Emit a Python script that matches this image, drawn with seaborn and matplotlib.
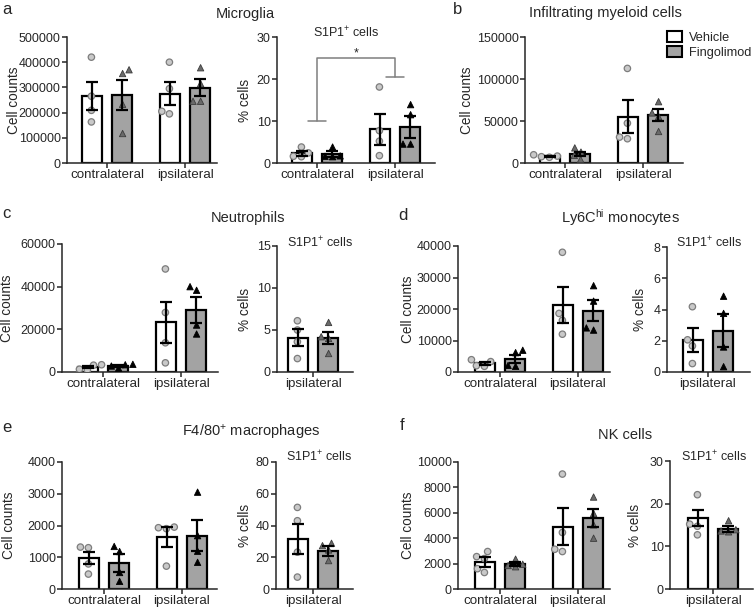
import numpy as np
import pandas as pd
import matplotlib
matplotlib.use("Agg")
import matplotlib.pyplot as plt
import seaborn as sns
from matplotlib.patches import Patch
from matplotlib.ticker import FuncFormatter

sns.set_style("ticks")
plt.rcParams["font.family"] = ["Liberation Sans", "DejaVu Sans"]
plt.rcParams["mathtext.fontset"] = "custom"
plt.rcParams["mathtext.rm"] = "Liberation Sans"
plt.rcParams["mathtext.it"] = "Liberation Sans:italic"
plt.rcParams["mathtext.bf"] = "Liberation Sans:bold"

# ---------------- data ----------------
groups2 = ["contralateral", "ipsilateral"]
groups1 = ["ipsilateral"]
treatments = ["Vehicle", "Fingolimod"]

# a: Microglia
a_cnt_veh_mean = [265000, 275000]
a_cnt_veh_sem = [56000, 46000]
a_cnt_fin_mean = [271000, 299000]
a_cnt_fin_sem = [60000, 33000]
a_cnt_veh_pts = [[420000, 265000, 209000, 163000], [400000, 295000, 205000, 195000]]
a_cnt_fin_pts = [[355000, 370000, 233000, 117000], [378000, 315000, 245000, 245000]]

a_pct_veh_mean = [2.3, 8.0]
a_pct_veh_sem = [0.65, 3.6]
a_pct_fin_mean = [2.15, 8.5]
a_pct_fin_sem = [0.65, 2.6]
a_pct_veh_pts = [[3.8, 2.4, 1.6, 1.5], [18.1, 7.7, 5.2, 1.75]]
a_pct_fin_pts = [[3.8, 1.6, 1.5, 1.7], [13.9, 11.5, 4.5, 4.5]]

# b: Infiltrating myeloid cells
b_cnt_veh_mean = [8100, 55300]
b_cnt_veh_sem = [700, 19700]
b_cnt_fin_mean = [10700, 57300]
b_cnt_fin_sem = [2900, 7400]
b_cnt_veh_pts = [[6800, 7500, 8200, 9800], [112600, 47400, 28900, 30800]]
b_cnt_fin_pts = [[18000, 13000, 9000, 4300], [73000, 59700, 55300, 37500]]

# c: Neutrophils
c_cnt_veh_mean = [2200, 23300]
c_cnt_veh_sem = [400, 9600]
c_cnt_fin_mean = [2900, 29100]
c_cnt_fin_sem = [500, 5900]
c_cnt_veh_pts = [[3400, 3200, 1300, 900], [48300, 27900, 13700, 4300]]
c_cnt_fin_pts = [[3600, 3400, 2800, 1800], [40000, 38300, 22000, 17800]]

c_pct_veh_mean = [4.1]
c_pct_veh_sem = [1.0]
c_pct_fin_mean = [4.05]
c_pct_fin_sem = [0.75]
c_pct_veh_pts = [[6.1, 5.0, 3.6, 1.6]]
c_pct_fin_pts = [[5.9, 4.2, 4.0, 2.2]]

# d: Ly6Chi monocytes
d_cnt_veh_mean = [2750, 21200]
d_cnt_veh_sem = [500, 5800]
d_cnt_fin_mean = [4250, 19500]
d_cnt_fin_sem = [1300, 3400]
d_cnt_veh_pts = [[3900, 3300, 2000, 1800], [38000, 18600, 16400, 12000]]
d_cnt_fin_pts = [[6900, 6150, 2100, 1800], [27400, 22500, 14000, 13300]]

d_pct_veh_mean = [2.06]
d_pct_veh_sem = [0.78]
d_pct_fin_mean = [2.64]
d_pct_fin_sem = [1.05]
d_pct_veh_pts = [[4.18, 2.06, 1.67, 0.54]]
d_pct_fin_pts = [[4.85, 3.75, 1.6, 0.34]]

# e: F4/80+ macrophages
e_cnt_veh_mean = [990, 1630]
e_cnt_veh_sem = [190, 310]
e_cnt_fin_mean = [820, 1680]
e_cnt_fin_sem = [270, 490]
e_cnt_veh_pts = [[1300, 1320, 790, 470], [1950, 1930, 1900, 720]]
e_cnt_fin_pts = [[1340, 1180, 520, 240], [3050, 1680, 1190, 840]]

e_pct_veh_mean = [31.3]
e_pct_veh_sem = [9.5]
e_pct_fin_mean = [24.0]
e_pct_fin_sem = [2.9]
e_pct_veh_pts = [[51.4, 43.0, 23.2, 7.5]]
e_pct_fin_pts = [[28.8, 27.3, 24.6, 17.9]]

# f: NK cells
f_cnt_veh_mean = [2160, 4920]
f_cnt_veh_sem = [390, 1420]
f_cnt_fin_mean = [1970, 5580]
f_cnt_fin_sem = [150, 690]
f_cnt_veh_pts = [[2950, 2550, 2400, 1600, 1300], [9050, 4450, 3130, 2950]]
f_cnt_fin_pts = [[2350, 1950, 1850, 1750], [7240, 5950, 5050, 4000]]

f_pct_veh_mean = [16.6]
f_pct_veh_sem = [1.9]
f_pct_fin_mean = [14.1]
f_pct_fin_sem = [0.7]
f_pct_veh_pts = [[22.1, 15.2, 14.7, 12.7]]
f_pct_fin_pts = [[16.0, 13.9, 13.4, 13.6]]

# ---------------- style ----------------
W, H = 754, 608
UNIT = 78.0
BAR_GRAY = "#a3a3a3"
CIRC_FACE = "#c9c9c9"
CIRC_EDGE = "#7d7d7d"
TRI_BLACK = "#000000"
TRI_GRAY = "#6a6a6a"

fig = plt.figure(figsize=(W / 100, H / 100), dpi=100)


def make_ax(x0, x1, ytop, ybot):
    return fig.add_axes([x0 / W, 1 - ybot / H, (x1 - x0) / W, (ybot - ytop) / H])


def panel(box, left_px, lab_px, cats, vm, vs, fm, fs, vp, fp, tri_col, ymax, ystep, ylabel):
    x0, x1, ytop, ybot = box
    ax = make_ax(x0, x1, ytop, ybot)
    bars = pd.DataFrame({
        "group": cats * 2,
        "treatment": ["Vehicle"] * len(cats) + ["Fingolimod"] * len(cats),
        "value": list(vm) + list(fm),
    })
    sns.barplot(data=bars, x="group", y="value", hue="treatment", order=cats,
                hue_order=treatments, palette={"Vehicle": "white", "Fingolimod": BAR_GRAY},
                edgecolor="black", linewidth=1.6, width=0.76, gap=0.33,
                errorbar=None, legend=False, ax=ax, zorder=2)
    # error bars from bar centres
    for cont, means, sems in zip(ax.containers[:2], (vm, fm), (vs, fs)):
        xs = [p.get_x() + p.get_width() / 2 for p in cont.patches]
        ax.errorbar(xs, means, yerr=sems, fmt="none", ecolor="black",
                    elinewidth=1.6, capsize=4, capthick=1.6, zorder=5)
    # points
    vrows = [(c, "Vehicle", v) for c, pts in zip(cats, vp) for v in pts]
    frows = [(c, "Fingolimod", v) for c, pts in zip(cats, fp) for v in pts]
    vdf = pd.DataFrame(vrows, columns=["group", "treatment", "value"])
    fdf = pd.DataFrame(frows, columns=["group", "treatment", "value"])
    sns.swarmplot(data=vdf, x="group", y="value", hue="treatment", order=cats,
                  hue_order=treatments, dodge=True,
                  palette={"Vehicle": CIRC_FACE, "Fingolimod": CIRC_FACE},
                  size=4.6, edgecolor=CIRC_EDGE, linewidth=0.9, legend=False,
                  ax=ax, zorder=4, marker="o")
    tri_edge = "#000000" if tri_col == TRI_BLACK else "#3c3c3c"
    sns.swarmplot(data=fdf, x="group", y="value", hue="treatment", order=cats,
                  hue_order=treatments, dodge=True,
                  palette={"Vehicle": tri_col, "Fingolimod": tri_col},
                  size=4.6, edgecolor=tri_edge, linewidth=0.6, legend=False,
                  ax=ax, zorder=4, marker="^")
    ax.set_xlim(-left_px / UNIT, (x1 - x0 - left_px) / UNIT)
    ax.set_ylim(0, ymax)
    ax.set_yticks(np.arange(0, ymax + ystep / 2, ystep))
    ax.yaxis.set_major_formatter(FuncFormatter(lambda v, p: f"{v:.0f}"))
    ax.set_xlabel("")
    ax.set_ylabel(ylabel, fontsize=9.8)
    # label's right edge sits at the given coordinate; lab_px is the label centre
    ax.yaxis.set_label_coords(-(lab_px - 6) / (x1 - x0), 0.5)
    for s in ("top", "right"):
        ax.spines[s].set_visible(False)
    for s in ("left", "bottom"):
        ax.spines[s].set_linewidth(1.1)
    ax.tick_params(axis="y", labelsize=9, length=3.5, width=1.1, pad=1)
    ax.tick_params(axis="x", labelsize=9.6, length=3.5, width=1.1, pad=1)
    ax.set_facecolor("none")
    return ax


ax_a1 = panel((67, 217, 37, 163), 40, 52, groups2, a_cnt_veh_mean, a_cnt_veh_sem,
              a_cnt_fin_mean, a_cnt_fin_sem, a_cnt_veh_pts, a_cnt_fin_pts,
              TRI_GRAY, 500000, 100000, "Cell counts")
ax_a2 = panel((277, 435, 37, 163), 40, 31, groups2, a_pct_veh_mean, a_pct_veh_sem,
              a_pct_fin_mean, a_pct_fin_sem, a_pct_veh_pts, a_pct_fin_pts,
              TRI_BLACK, 30, 10, "% cells")
ax_b = panel((525, 683, 37, 163), 40, 57, groups2, b_cnt_veh_mean, b_cnt_veh_sem,
             b_cnt_fin_mean, b_cnt_fin_sem, b_cnt_veh_pts, b_cnt_fin_pts,
             TRI_GRAY, 150000, 50000, "Cell counts")
ax_c1 = panel((62, 218, 244, 372), 41, 54, groups2, c_cnt_veh_mean, c_cnt_veh_sem,
              c_cnt_fin_mean, c_cnt_fin_sem, c_cnt_veh_pts, c_cnt_fin_pts,
              TRI_BLACK, 60000, 20000, "Cell counts")
ax_c2 = panel((277, 353, 246, 372), 36, 31, groups1, c_pct_veh_mean, c_pct_veh_sem,
              c_pct_fin_mean, c_pct_fin_sem, c_pct_veh_pts, c_pct_fin_pts,
              TRI_GRAY, 15, 5, "% cells")
ax_d1 = panel((458, 610, 246, 372), 42, 49, groups2, d_cnt_veh_mean, d_cnt_veh_sem,
              d_cnt_fin_mean, d_cnt_fin_sem, d_cnt_veh_pts, d_cnt_fin_pts,
              TRI_BLACK, 40000, 10000, "Cell counts")
ax_d2 = panel((667, 750, 247, 372), 41, 26, groups1, d_pct_veh_mean, d_pct_veh_sem,
              d_pct_fin_mean, d_pct_fin_sem, d_pct_veh_pts, d_pct_fin_pts,
              TRI_BLACK, 8, 2, "% cells")
ax_e1 = panel((62, 217, 462, 589), 42, 52, groups2, e_cnt_veh_mean, e_cnt_veh_sem,
              e_cnt_fin_mean, e_cnt_fin_sem, e_cnt_veh_pts, e_cnt_fin_pts,
              TRI_BLACK, 4000, 1000, "Cell counts")
ax_e2 = panel((276, 353, 462, 589), 37, 30, groups1, e_pct_veh_mean, e_pct_veh_sem,
              e_pct_fin_mean, e_pct_fin_sem, e_pct_veh_pts, e_pct_fin_pts,
              TRI_GRAY, 80, 20, "% cells")
ax_f1 = panel((458, 610, 462, 589), 42, 49, groups2, f_cnt_veh_mean, f_cnt_veh_sem,
              f_cnt_fin_mean, f_cnt_fin_sem, f_cnt_veh_pts, f_cnt_fin_pts,
              TRI_GRAY, 10000, 2000, "Cell counts")
ax_f2 = panel((670, 753, 461, 589), 43, 34, groups1, f_pct_veh_mean, f_pct_veh_sem,
              f_pct_fin_mean, f_pct_fin_sem, f_pct_veh_pts, f_pct_fin_pts,
              TRI_GRAY, 30, 10, "% cells")

# significance bracket (panel a, % cells)
br = dict(color="#7f7f7f", lw=1.1, clip_on=False, zorder=6)
ax_a2.plot([-0.11, 0.11], [10.1, 10.1], **br)
ax_a2.plot([0, 0, 1, 1], [10.1, 25.0, 25.0, 20.4], **br)
ax_a2.plot([0.89, 1.11], [20.4, 20.4], **br)
ax_a2.text(0.5, 26.0, "*", ha="center", va="center", fontsize=9)


# figure texts
def ftext(x, y, s, size=10.5, **kw):
    fig.text(x / W, 1 - y / H, s, fontsize=size, **kw)


for x, y, s in [(245, 14, "Microglia"), (605, 13, "Infiltrating myeloid cells"),
                (248, 218, "Neutrophils"), (620, 218, r"Ly6C$^{\mathregular{hi}}$ monocytes"),
                (251, 432, r"F4/80$^{\mathregular{+}}$ macrophages"), (625, 435, "NK cells")]:
    ftext(x, y, s, ha="center", va="center")

sub = r"S1P1$^{\mathregular{+}}$ cells"
for x, y in [(346, 33), (320, 243), (709, 243), (319, 457), (714, 457)]:
    ftext(x, y, sub, size=9, ha="center", va="center")

for x, y, s in [(2, 9, "a"), (453, 9, "b"), (2, 214, "c"), (398, 215, "d"),
                (2, 428, "e"), (400, 426, "f")]:
    ftext(x, y, s, size=12, ha="left", va="center")

handles = [Patch(facecolor="white", edgecolor="black", linewidth=1.5, label="Vehicle"),
           Patch(facecolor=BAR_GRAY, edgecolor="black", linewidth=1.5, label="Fingolimod")]
fig.legend(handles=handles, loc="upper left", bbox_to_anchor=(667 / W, 1 - 31 / H),
           frameon=False, fontsize=9.2, handlelength=1.15, handleheight=0.95,
           handletextpad=0.55, labelspacing=0.2, borderpad=0, borderaxespad=0)

fig.savefig("out.png", dpi=100)
